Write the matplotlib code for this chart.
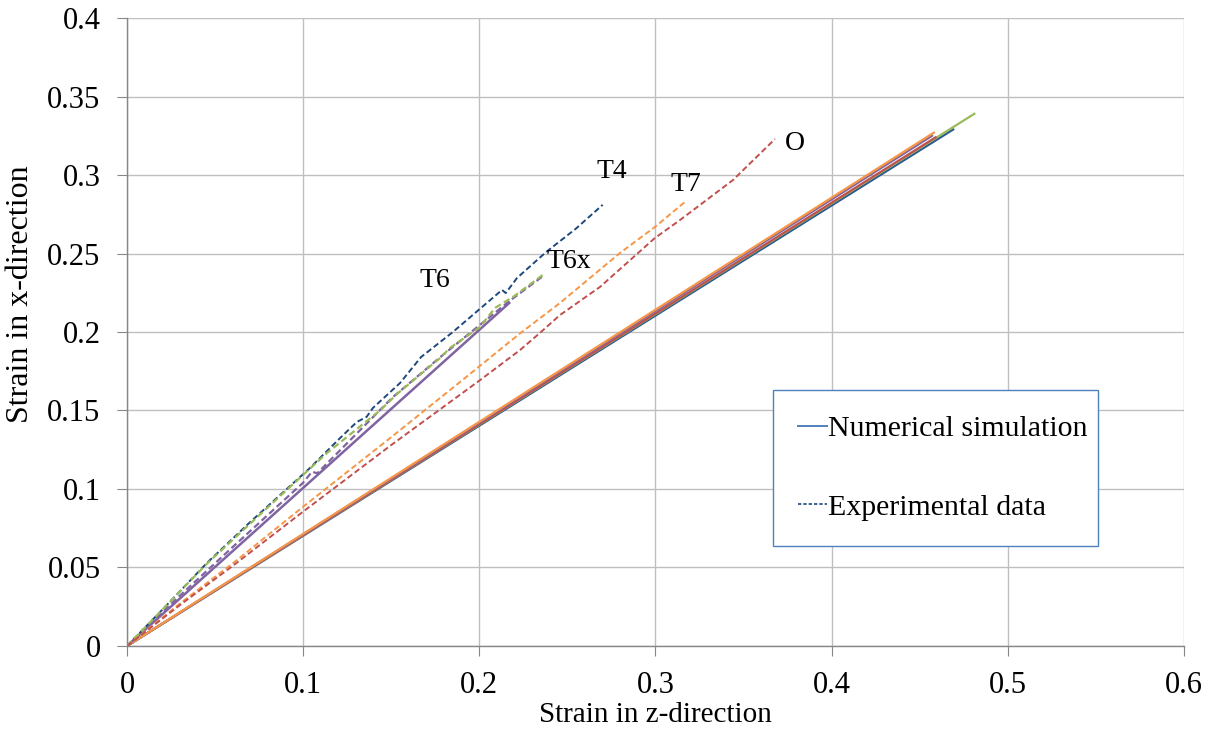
import matplotlib.pyplot as plt

plt.rcParams['font.family'] = ['Liberation Serif', 'DejaVu Serif']

# numerical simulation: straight lines from origin to end point
sim_blue_x = [0.0, 0.469]
sim_blue_y = [0.0, 0.329]
sim_green_x = [0.0, 0.481]
sim_green_y = [0.0, 0.339]
sim_red_x = [0.0, 0.459]
sim_red_y = [0.0, 0.324]
sim_purple_x = [0.0, 0.457]
sim_purple_y = [0.0, 0.325]
sim_orange_x = [0.0, 0.458]
sim_orange_y = [0.0, 0.327]
sim_t6_x = [0.0, 0.217]
sim_t6_y = [0.0, 0.2185]

t4_x = [0.0, 0.02, 0.0454, 0.07, 0.1039, 0.121, 0.1305, 0.136, 0.1396, 0.155, 0.1669, 0.185,
        0.2129, 0.215, 0.2214, 0.238, 0.255, 0.270]
t4_y = [0.0, 0.023, 0.0529, 0.079, 0.1134, 0.1325, 0.1427, 0.1459, 0.1516, 0.1675, 0.184, 0.200,
        0.2268, 0.2248, 0.2344, 0.251, 0.266, 0.281]
t6_x = [0.0, 0.02, 0.045, 0.07, 0.1, 0.1135, 0.1436, 0.1538, 0.1777, 0.1833, 0.2004, 0.2089,
        0.2200, 0.236]
t6_y = [0.0, 0.023, 0.052, 0.078, 0.109, 0.1229, 0.150, 0.161, 0.1834, 0.1898, 0.2032, 0.2153,
        0.2230, 0.2363]
t6x_x = [0.0, 0.03, 0.06, 0.1, 0.105, 0.108, 0.151, 0.18, 0.2174, 0.236]
t6x_y = [0.0, 0.032, 0.063, 0.104, 0.111, 0.110, 0.1586, 0.186, 0.2200, 0.2355]
t7_x = [0.0, 0.03, 0.0625, 0.1, 0.15, 0.19, 0.223, 0.2458, 0.2798, 0.2997, 0.3173]
t7_y = [0.0, 0.027, 0.0548, 0.0887, 0.133, 0.169, 0.199, 0.2185, 0.2503, 0.2669, 0.2834]
o_x = [0.0, 0.03, 0.06, 0.1, 0.15, 0.2, 0.2231, 0.2344, 0.2458, 0.2685, 0.2997, 0.3139, 0.344, 0.3678]
o_y = [0.0, 0.026, 0.051, 0.0856, 0.128, 0.169, 0.1885, 0.1994, 0.2108, 0.2287, 0.2599, 0.2713,
       0.2968, 0.3229]

labels = ['T4', 'T7', 'O', 'T6', 'T6x']
label_x = [0.275, 0.317, 0.379, 0.175, 0.251]
label_y = [0.302, 0.294, 0.320, 0.233, 0.245]

fig = plt.figure(figsize=(12.16, 7.35), dpi=100)
ax = fig.add_axes([0.1044, 0.1211, 0.8693, 0.8544])

dash = (3, 1.6)
ax.plot(sim_blue_x, sim_blue_y, color='#2C5C8F', lw=1.6)
ax.plot(sim_green_x, sim_green_y, color='#9BBB59', lw=1.6)
ax.plot(sim_red_x, sim_red_y, color='#C0504D', lw=1.6)
ax.plot(sim_purple_x, sim_purple_y, color='#8064A2', lw=1.6)
ax.plot(sim_orange_x, sim_orange_y, color='#F79646', lw=1.6)
ax.plot(sim_t6_x, sim_t6_y, color='#8064A2', lw=1.8)

ax.plot(t4_x, t4_y, color='#1F497D', lw=1.4, dashes=dash)
ax.plot(t6x_x, t6x_y, color='#8064A2', lw=1.6, dashes=dash)
ax.plot(t6_x, t6_y, color='#9BBB59', lw=1.6, dashes=dash)
ax.plot(t7_x, t7_y, color='#F79646', lw=1.4, dashes=dash)
ax.plot(o_x, o_y, color='#C0504D', lw=1.4, dashes=dash)

for lab, lx, ly in zip(labels, label_x, label_y):
    ax.text(lx, ly, lab, fontsize=20, ha='center', va='center')

# legend entries
ax.plot([], [], color='#4F81BD', lw=1.4, label='Numerical simulation')
ax.plot([], [], color='#1F497D', lw=1.2, dashes=(2, 1.2), label='Experimental data')
handles, names = ax.get_legend_handles_labels()
leg = ax.legend(handles, names, loc='lower left', bbox_to_anchor=(0.611, 0.159, 0.3076, 0.2486),
                mode='expand', fontsize=21.5, handlelength=0.95, handletextpad=0.05,
                labelspacing=1.72, borderpad=0.85, borderaxespad=0, fancybox=False,
                framealpha=1)
leg.get_frame().set_edgecolor('#4F81BD')
leg.get_frame().set_linewidth(1.0)

ax.set_xlim(0, 0.6)
ax.set_ylim(0, 0.4)
ax.set_xticks([0, 0.1, 0.2, 0.3, 0.4, 0.5, 0.6])
ax.set_xticklabels(['0', '0.1', '0.2', '0.3', '0.4', '0.5', '0.6'])
ax.set_yticks([0, 0.05, 0.1, 0.15, 0.2, 0.25, 0.3, 0.35, 0.4])
ax.set_yticklabels(['0', '0.05', '0.1', '0.15', '0.2', '0.25', '0.3', '0.35', '0.4'])
ax.grid(True, color='#BFBFBF', lw=1.0)
ax.set_axisbelow(True)
for s in ['top', 'right']:
    ax.spines[s].set_visible(False)
for s in ['left', 'bottom']:
    ax.spines[s].set_color('#868686')
    ax.spines[s].set_linewidth(1.0)
ax.tick_params(direction='out', length=7, color='#868686', labelsize=22)
ax.tick_params(axis='x', pad=11)
ax.tick_params(axis='y', pad=12)
ax.set_xlabel('Strain in z-direction', fontsize=21)
ax.set_ylabel('Strain in x-direction', fontsize=23)
ax.xaxis.set_label_coords(0.5, -0.089)
ax.yaxis.set_label_coords(-0.087, 0.56)

fig.savefig('out.png', dpi=100)
